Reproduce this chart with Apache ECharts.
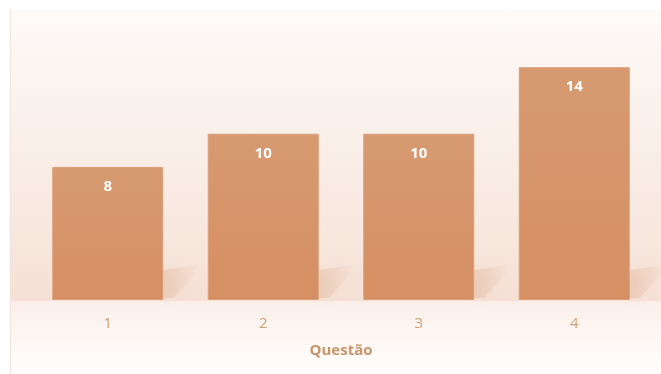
<!DOCTYPE html>
<html>
<head>
<meta charset="utf-8">
<script src="https://cdn.jsdelivr.net/npm/echarts@6/dist/echarts.min.js"></script>
<style>
html,body{margin:0;padding:0;background:#fff;}
#wrap{position:relative;width:661px;height:374px;background:#fff;}
#bg{position:absolute;left:10px;top:10px;right:0;bottom:0;
  background:linear-gradient(to bottom,#FDFAF8 0px,#FAF0EA 120px,#F7E6DC 240px,#F5E0D4 290px,#FBEFE9 292px,#FDF8F5 330px,#FFFDFC 364px);
  border-left:1px solid #EFE3DA;}
#chart{position:absolute;left:0;top:0;width:661px;height:374px;}
</style>
</head>
<body>
<div id="wrap"><div id="bg"></div><div id="chart"></div></div>
<script>
var categories = ['1', '2', '3', '4'];
var values = [8, 10, 10, 14];
var axisTitle = 'Questão';

var chart = echarts.init(document.getElementById('chart'), null, {renderer: 'canvas'});
var BAR_W = 111;
chart.setOption({
  backgroundColor: 'transparent',
  animation: false,
  grid: {left: 30, right: 9, top: 34, bottom: 74},
  xAxis: {
    type: 'category',
    data: categories,
    axisLine: {show: false},
    axisTick: {show: false},
    axisLabel: {color: '#CFA173', fontSize: 15, fontFamily: 'Open Sans', margin: 16},
    name: axisTitle,
    nameLocation: 'middle',
    nameGap: 43,
    nameTextStyle: {color: '#C8946A', fontSize: 15, fontWeight: 'bold', fontFamily: 'Open Sans'}
  },
  yAxis: {type: 'value', min: 0, max: 16, show: false, splitLine: {show: false}},
  series: [
    {
      type: 'custom',
      z: 1,
      silent: true,
      data: values.map(function (v, i) { return [i, v]; }),
      renderItem: function (params, api) {
        var p = api.coord([api.value(0), 0]);
        var xr = p[0] + BAR_W / 2;
        var y0 = p[1];
        return {
          type: 'polygon',
          shape: {points: [[xr, y0 - 30], [xr + 34, y0 - 35], [xr + 30, y0 - 24], [xr + 10, y0 - 2], [xr, y0 - 2]]},
          style: {
            fill: new echarts.graphic.LinearGradient(0, 0, 1, 0, [
              {offset: 0, color: 'rgba(205,140,100,0.22)'},
              {offset: 1, color: 'rgba(205,140,100,0.02)'}
            ]),
            shadowBlur: 12,
            shadowColor: 'rgba(205,140,100,0.35)'
          }
        };
      }
    },
    {
      type: 'bar',
      z: 2,
      data: values,
      barWidth: BAR_W,
      itemStyle: {
        color: new echarts.graphic.LinearGradient(0, 0, 0, 1, [
          {offset: 0, color: '#D79A70'},
          {offset: 1, color: '#D58F62'}
        ]),
        borderColor: '#DA9E78',
        borderWidth: 1
      },
      label: {
        show: true,
        position: 'insideTop',
        distance: 12,
        color: '#FFFFFF',
        fontSize: 15,
        fontWeight: 'bold',
        fontFamily: 'Open Sans'
      }
    }
  ]
});
</script>
</body>
</html>
